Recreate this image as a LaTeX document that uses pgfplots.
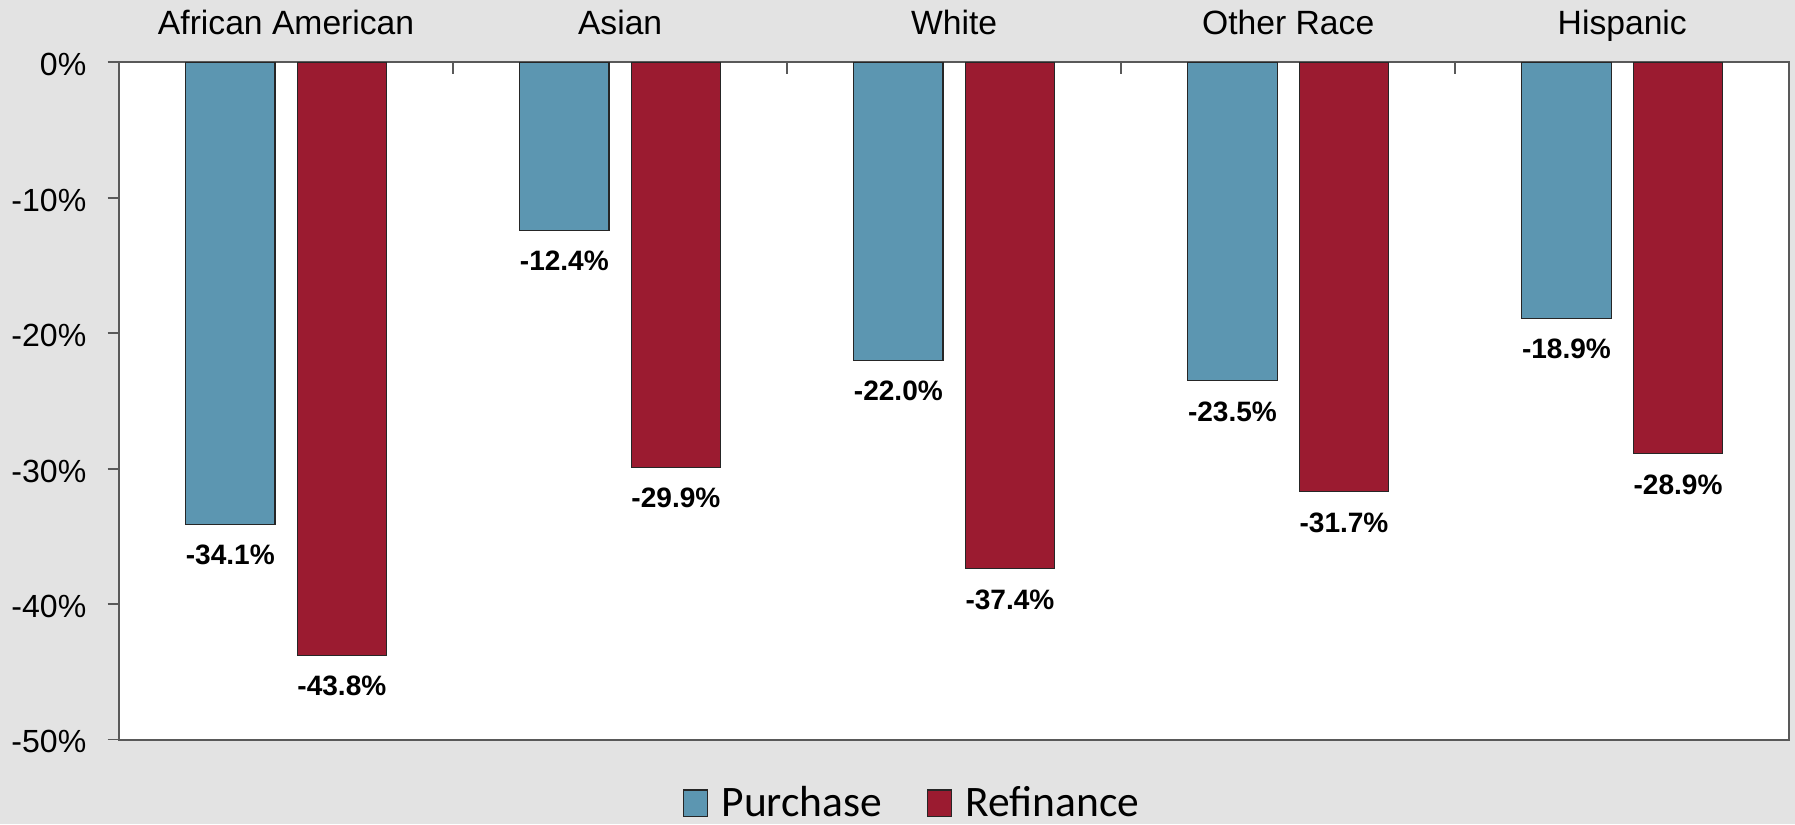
\documentclass[border=0pt]{standalone}
\usepackage{fontspec}
\setmainfont{Liberation Sans}
\newfontfamily\carlito{Carlito}
\usepackage{pgfplots}
\pgfplotsset{compat=1.18}
\definecolor{bgc}{RGB}{227,227,227}
\definecolor{purc}{RGB}{92,150,177}
\definecolor{refc}{RGB}{155,27,48}
\definecolor{framec}{RGB}{89,89,89}
\begin{document}
\begin{tikzpicture}
\fill[bgc] (0,0) rectangle (784pt,360pt);
\begin{axis}[
  at={(52pt,37pt)}, anchor=south west,
  scale only axis, width=729.5pt, height=295.75pt,
  xmin=-0.5, xmax=4.5, ymin=-50, ymax=0,
  axis background/.style={fill=white},
  axis line style={draw=framec, line width=0.9pt},
  /pgf/number format/assume math mode=true,
  ytick={-50,-40,-30,-20,-10,0},
  yticklabel={\pgfmathprintnumber{\tick}\%},
  ytick pos=left, ytick align=outside,
  yticklabel style={font=\fontsize{14}{16}\selectfont, anchor=east, inner sep=0pt, xshift=-9.1pt, yshift=-1pt},
  xtick={0.5,1.5,2.5,3.5}, xticklabels={,,,},
  xtick pos=upper, xticklabel pos=upper, xtick align=inside,
  major tick length=5pt,
  tick style={draw=framec, line width=0.8pt},
  extra x ticks={0,1,2,3,4},
  extra x tick labels={African American,Asian,White,Other Race,Hispanic},
  extra x tick style={tick style={draw=none}},
  xticklabel style={font=\fontsize{14.7}{17}\selectfont, anchor=base, inner sep=0pt, yshift=12.25pt},
  point meta=y,
  nodes near coords={\pgfmathprintnumber[fixed,fixed zerofill,precision=1]{\pgfplotspointmeta}\%},
  nodes near coords style={anchor=base, yshift=-17.65pt, inner sep=0pt, font=\bfseries\fontsize{12.25}{14}\selectfont, text=black},
  legend columns=2,
  legend style={draw=none, fill=none, at={(0.3372,-0.094)}, anchor=west, inner sep=0pt,
    font=\carlito\fontsize{19}{22}\selectfont, column sep=4pt,
    /tikz/every even column/.append style={column sep=17.5pt}},
]
\addplot[ybar, bar width=39pt, bar shift=0pt, fill=purc, draw=black!85, line width=0.5pt,
  legend image code/.code={\draw[fill=purc, draw=black!85, line width=0.5pt] (0pt,-5.75pt) rectangle (10.5pt,5.75pt);}]
  coordinates {(-0.167,-34.1) (0.833,-12.4) (1.833,-22.0) (2.833,-23.5) (3.833,-18.9)};
\addlegendentry{Purchase}
\addplot[ybar, bar width=39pt, bar shift=0pt, fill=refc, draw=black!85, line width=0.5pt,
  legend image code/.code={\draw[fill=refc, draw=black!85, line width=0.5pt] (0pt,-5.75pt) rectangle (10.5pt,5.75pt);}]
  coordinates {(0.167,-43.8) (1.167,-29.9) (2.167,-37.4) (3.167,-31.7) (4.167,-28.9)};
\addlegendentry{Refinance}
\end{axis}
\pgfresetboundingbox
\path[use as bounding box] (0,0) rectangle (784pt,360pt);
\end{tikzpicture}
\end{document}
